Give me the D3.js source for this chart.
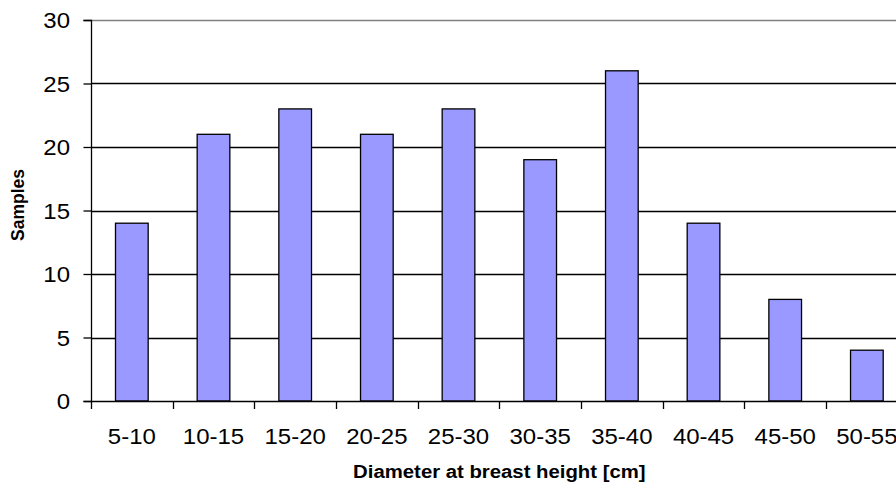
<!DOCTYPE html>
<html>
<head>
<meta charset="utf-8">
<script src="https://cdn.jsdelivr.net/npm/d3@7"></script>
<style>
  html, body { margin: 0; padding: 0; background: #fff; }
  svg { display: block; }
  text { font-family: "Liberation Sans", Arial, sans-serif; fill: #000; }
</style>
</head>
<body>
<svg id="chart" width="896" height="484"></svg>
<script>
// Diameter classes and sample counts
const categories = ["5-10", "10-15", "15-20", "20-25", "25-30", "30-35", "35-40", "40-45", "45-50", "50-55"];
const samples = [14, 21, 23, 21, 23, 19, 26, 14, 8, 4];
const yTicks = [0, 5, 10, 15, 20, 25, 30];
const xTitle = "Diameter at breast height [cm]";
const yTitle = "Samples";

const W = 896, H = 484;
const plot = { left: 91, top: 20, right: 907.7, bottom: 401 };
const stretch = 1.09; // slightly wide label lettering

const svg = d3.select("#chart");

const x = d3.scaleBand()
  .domain(categories)
  .range([plot.left, plot.right])
  .paddingInner(0.6)
  .paddingOuter(0.3);

const y = d3.scaleLinear()
  .domain([0, 30])
  .range([plot.bottom, plot.top]);

// Horizontal gridlines (top one is the lighter plot border)
svg.append("g")
  .selectAll("line")
  .data(yTicks.filter(d => d > 0))
  .join("line")
  .attr("x1", plot.left)
  .attr("x2", W)
  .attr("y1", d => Math.round(y(d)) + 0.5)
  .attr("y2", d => Math.round(y(d)) + 0.5)
  .attr("stroke", d => d === 30 ? "#808080" : "#000")
  .attr("stroke-width", 1.3);

// Bars
svg.append("g")
  .selectAll("rect")
  .data(categories)
  .join("rect")
  .attr("x", d => x(d))
  .attr("y", (d, i) => y(samples[i]))
  .attr("width", x.bandwidth())
  .attr("height", (d, i) => y(0) - y(samples[i]))
  .attr("fill", "#9999FF")
  .attr("stroke", "#000")
  .attr("stroke-width", 1.3);

// Y axis
const yAxis = d3.axisLeft(y)
  .tickValues(yTicks)
  .tickSize(8)
  .tickPadding(13);
const gy = svg.append("g")
  .attr("transform", `translate(${plot.left + 0.5},0)`)
  .call(yAxis);
gy.select(".domain").attr("stroke", "#000").attr("stroke-width", 1.3)
  .attr("d", `M-8,${plot.top + 0.5}H0V${plot.bottom + 0.5}H-8`);
gy.selectAll(".tick line").attr("stroke", "#000").attr("stroke-width", 1.3);
gy.selectAll(".tick text")
  .attr("font-size", 22)
  .attr("font-family", "Liberation Sans, Arial, sans-serif")
  .attr("x", -21.5 / stretch)
  .attr("transform", `scale(${stretch},1)`)
  .attr("dy", "0.36em");

// X axis: labels centred under bars, ticks on category boundaries
const xAxis = d3.axisBottom(x).tickSize(0).tickPadding(27);
const gx = svg.append("g")
  .attr("transform", `translate(0,${plot.bottom + 0.5})`)
  .call(xAxis);
gx.select(".domain").remove();
gx.selectAll(".tick text")
  .attr("font-size", 22)
  .attr("font-family", "Liberation Sans, Arial, sans-serif")
  .attr("transform", `scale(${stretch},1)`);

svg.append("line")
  .attr("x1", plot.left).attr("x2", W)
  .attr("y1", plot.bottom + 0.5).attr("y2", plot.bottom + 0.5)
  .attr("stroke", "#000").attr("stroke-width", 1.3);

const step = x.step();
const boundaries = categories.map(c => x(c) - step * x.paddingOuter());
svg.append("g")
  .selectAll("line")
  .data(boundaries)
  .join("line")
  .attr("x1", d => Math.round(d) + 0.5)
  .attr("x2", d => Math.round(d) + 0.5)
  .attr("y1", plot.bottom)
  .attr("y2", plot.bottom + 8)
  .attr("stroke", "#000")
  .attr("stroke-width", 1.3);

// Axis titles
svg.append("text")
  .attr("transform", `translate(${(plot.left + plot.right) / 2},478) scale(1.13,1)`)
  .attr("text-anchor", "middle")
  .attr("font-weight", "bold")
  .attr("font-size", 18)
  .text(xTitle);

svg.append("text")
  .attr("transform", `translate(24,205) rotate(-90)`)
  .attr("text-anchor", "middle")
  .attr("font-weight", "bold")
  .attr("font-size", 17.5)
  .text(yTitle);
</script>
</body>
</html>
